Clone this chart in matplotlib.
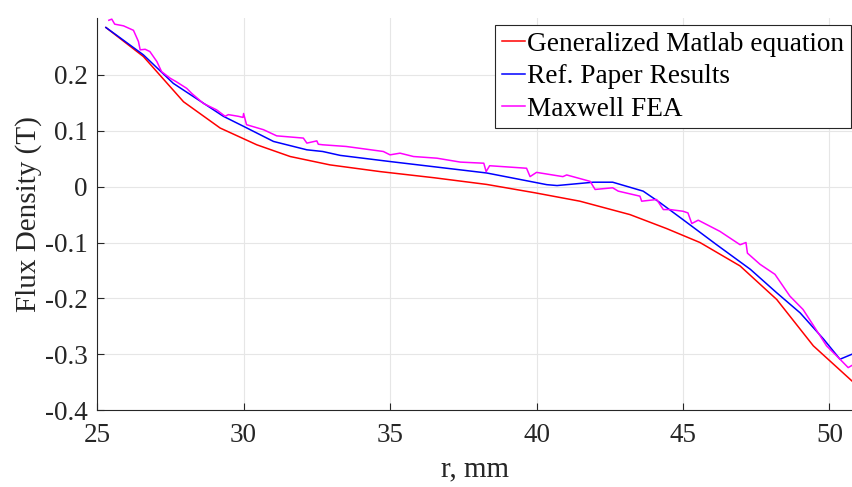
import numpy as np
import matplotlib
matplotlib.use("Agg")
import matplotlib.pyplot as plt

# Generalized Matlab equation
r_gen = [25.3, 26.58, 27.95, 29.2, 30.45, 31.59, 32.95, 34.66, 36.5, 38.3, 39.95,
         41.48, 43.19, 44.44, 45.58, 46.95, 48.2, 49.45, 50.77]
b_gen = [0.285, 0.233, 0.152, 0.105, 0.075, 0.054, 0.039, 0.027, 0.016, 0.004, -0.011,
         -0.026, -0.05, -0.075, -0.10, -0.142, -0.202, -0.285, -0.348]

# Ref. Paper Results
r_ref = [25.3, 25.67, 26.58, 27.6, 29.31, 30.0, 31.02, 32.16, 32.7, 33.3, 35.0, 38.3,
         40.35, 40.7, 41.94, 42.6, 43.64, 44.2, 45.0, 46.15, 47.3, 48.2, 49.0, 49.8,
         50.36, 50.77]
b_ref = [0.285, 0.271, 0.236, 0.185, 0.126, 0.108, 0.081, 0.066, 0.063, 0.056, 0.045,
         0.0245, 0.0036, 0.002, 0.008, 0.008, -0.008, -0.028, -0.059, -0.104, -0.148,
         -0.19, -0.226, -0.273, -0.309, -0.30]

# Maxwell FEA
r_fea = [25.4, 25.5, 25.6, 25.9, 26.24, 26.41, 26.47, 26.64, 26.8, 27.04, 27.2, 27.5,
         27.7, 28.06, 28.23, 28.63, 29.08, 29.37, 29.48, 29.82, 29.98, 30.0, 30.1,
         30.68, 31.13, 32.04, 32.16, 32.5, 32.55, 32.7, 33.5, 34.77, 35.0, 35.34, 35.8,
         36.6, 37.4, 38.2, 38.28, 38.4, 39.66, 39.78, 40.0, 40.9, 41.03, 41.83, 42.0,
         42.6, 42.79, 43.53, 43.59, 44.1, 44.33, 44.56, 45.0, 45.17, 45.3, 45.52,
         46.26, 46.95, 47.15, 47.2, 47.63, 48.14, 48.65, 49.1, 49.68, 49.9, 50.36,
         50.64, 50.77]
b_fea = [0.298, 0.300, 0.291, 0.288, 0.280, 0.260, 0.245, 0.246, 0.242, 0.224, 0.206,
         0.194, 0.188, 0.176, 0.167, 0.149, 0.1375, 0.126, 0.129, 0.126, 0.124, 0.131,
         0.111, 0.102, 0.091, 0.087, 0.078, 0.082, 0.076, 0.075, 0.072, 0.063, 0.057,
         0.060, 0.054, 0.051, 0.044, 0.042, 0.027, 0.0375, 0.033, 0.018, 0.0256, 0.018,
         0.021, 0.0095, -0.005, -0.002, -0.008, -0.017, -0.026, -0.023, -0.041, -0.041,
         -0.044, -0.047, -0.066, -0.060, -0.080, -0.104, -0.100, -0.119, -0.139, -0.157,
         -0.196, -0.220, -0.267, -0.285, -0.309, -0.324, -0.320]

x_ticks = [25, 30, 35, 40, 45, 50]
y_ticks = [-0.4, -0.3, -0.2, -0.1, 0, 0.1, 0.2]
y_tick_labels = ["-0.4", "-0.3", "-0.2", "-0.1", "0", "0.1", "0.2"]

plt.rcParams['font.family'] = ['Liberation Serif', 'DejaVu Serif']

fig = plt.figure(figsize=(8.52, 4.87), dpi=100)
ax = fig.add_axes([0.114, 0.158, 0.886, 0.805])

ax.plot(r_gen, b_gen, color='#ff0000', lw=1.1, label='Generalized Matlab equation')
ax.plot(r_ref, b_ref, color='#0000ff', lw=1.1, label='Ref. Paper Results')
ax.plot(r_fea, b_fea, color='#ff00ff', lw=1.1, label='Maxwell FEA')

ax.set_xlim(25, 50.77)
ax.set_ylim(-0.4, 0.302)
ax.set_xticks(x_ticks)
ax.set_yticks(y_ticks)
ax.set_yticklabels(y_tick_labels)
ax.tick_params(direction='in', labelsize=19.5, colors='#262626', length=5)
ax.tick_params(axis='x', pad=9)
ax.tick_params(axis='y', pad=7)
ax.grid(True, color='#e6e6e6', lw=0.8)
ax.set_axisbelow(True)
for s in ['top', 'right']:
    ax.spines[s].set_visible(False)
for s in ['left', 'bottom']:
    ax.spines[s].set_color('#262626')

ax.set_xlabel('r, mm', fontsize=21, color='#262626', labelpad=6)
ax.set_ylabel('Flux Density (T)', fontsize=21, color='#262626', labelpad=2)

leg = ax.legend(loc='upper right', bbox_to_anchor=(851 / 852, 1 - 25 / 487),
                bbox_transform=fig.transFigure, fontsize=19.6, handlelength=0.85,
                handletextpad=0.08, borderpad=0.25, labelspacing=0.27,
                borderaxespad=0, fancybox=False, framealpha=1, edgecolor='#262626')
leg.get_frame().set_linewidth(0.8)

fig.savefig('out.png', dpi=100)
